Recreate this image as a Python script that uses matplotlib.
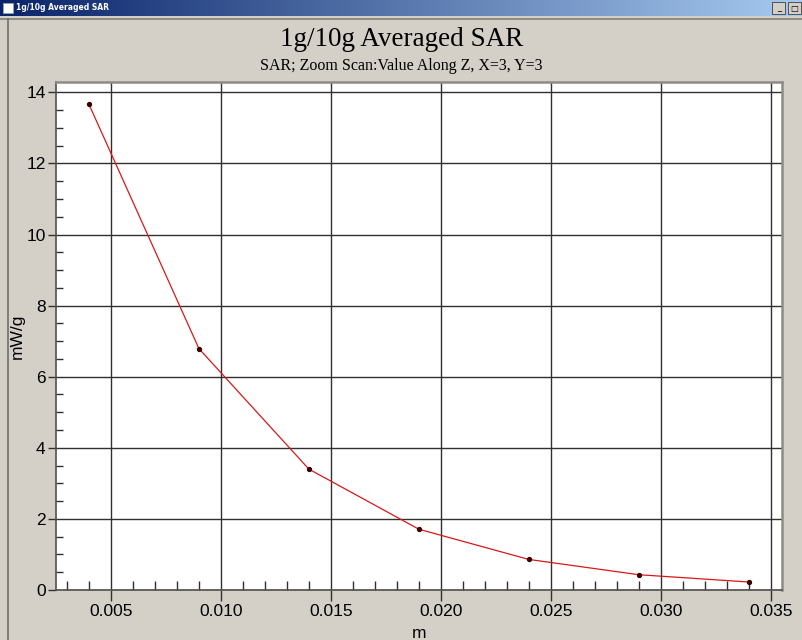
import numpy as np
import matplotlib
matplotlib.use("Agg")
import matplotlib.pyplot as plt
from matplotlib.lines import Line2D
from matplotlib.patches import Rectangle
from matplotlib.ticker import MultipleLocator, FormatStrFormatter

# distance along Z (m) and averaged SAR (mW/g)
z_m = [0.004, 0.009, 0.014, 0.019, 0.024, 0.029, 0.034]
sar_mwg = [13.66, 6.79, 3.40, 1.71, 0.86, 0.43, 0.225]

x_ticks = [0.005, 0.010, 0.015, 0.020, 0.025, 0.030, 0.035]
y_ticks = [0, 2, 4, 6, 8, 10, 12, 14]

window_title = "1g/10g Averaged SAR"
chart_title = "1g/10g Averaged SAR"
chart_subtitle = "SAR; Zoom Scan:Value Along Z, X=3, Y=3"

W, H = 803, 640
bg = "#d4d0c8"

fig = plt.figure(figsize=(W / 100, H / 100), dpi=100, facecolor=bg)


def fx(px):
    return px / W


def fy(py):
    return 1 - py / H


# window title bar
bar_h = 16
bar = fig.add_axes([0, fy(bar_h), 1, bar_h / H])
grad = np.linspace(0, 1, 256).reshape(1, -1)
cmap = matplotlib.colors.LinearSegmentedColormap.from_list("bar", ["#0a246a", "#a6caf0"])
bar.imshow(grad, aspect="auto", cmap=cmap, extent=[0, 1, 0, 1])
bar.set_axis_off()
bar.add_patch(Rectangle((0.004, 0.2), 0.012, 0.6, facecolor="white", edgecolor="#9ab", lw=0.5,
                        transform=bar.transAxes))
bar.text(0.02, 0.5, window_title, color="white", fontsize=5.5, fontweight="bold",
         va="center", ha="left", family="DejaVu Sans", transform=bar.transAxes)
for i, sym in enumerate(["_", "\u25a1"]):
    bx = 0.962 + i * 0.019
    bar.add_patch(Rectangle((bx, 0.12), 0.016, 0.76, facecolor=bg, edgecolor="#404040", lw=0.6,
                            transform=bar.transAxes))
    bar.text(bx + 0.008, 0.5, sym, fontsize=6, ha="center", va="center", color="black",
             transform=bar.transAxes)

# window frame lines
fig.add_artist(Line2D([0, 1], [fy(bar_h + 3), fy(bar_h + 3)], color="#80807a", lw=1.2))
fig.add_artist(Line2D([fx(8), fx(8)], [0, fy(bar_h + 3)], color="#6e6e68", lw=1.2))

# plot area
ax = fig.add_axes([fx(56), fy(590), fx(781.7) - fx(56), (590 - 82) / H])
ax.set_facecolor("white")
ax.plot(z_m, sar_mwg, color="#d81818", lw=0.9, marker="o", markersize=2.8,
        markerfacecolor="#3a0000", markeredgecolor="#3a0000", zorder=3)

ax.set_xlim(0.0025, 0.0355)
ax.set_ylim(0, 14.29)
ax.set_xticks(x_ticks)
ax.set_yticks(y_ticks)
ax.xaxis.set_major_formatter(FormatStrFormatter("%.3f"))
ax.xaxis.set_minor_locator(MultipleLocator(0.001))
ax.yaxis.set_minor_locator(MultipleLocator(0.5))
ax.grid(True, which="major", color="#303030", lw=1.0)

ax.tick_params(axis="x", which="major", direction="out", length=8, width=1, color="#303030",
               pad=2, labelsize=12.5)
ax.tick_params(axis="y", which="major", direction="out", length=6, width=1, color="#303030",
               pad=1.5, labelsize=12.5)
ax.tick_params(axis="x", which="minor", direction="in", length=6.5, width=1, color="#303030")
ax.tick_params(axis="y", which="minor", direction="in", length=5, width=1, color="#303030")

for side in ["left", "bottom"]:
    ax.spines[side].set_color("#505050")
    ax.spines[side].set_linewidth(1.2)
for side in ["top", "right"]:
    ax.spines[side].set_color("#8c8c86")
    ax.spines[side].set_linewidth(1.8)

for lab in ax.get_xticklabels() + ax.get_yticklabels():
    lab.set_family("Liberation Sans")

ax.set_xlabel("m", fontsize=12.5, family="Liberation Sans", labelpad=5)
ax.set_ylabel("mW/g", fontsize=12.5, family="Liberation Sans")
ax.yaxis.set_label_coords(-0.043, 0.5)

fig.text(0.5, fy(40), chart_title, ha="center", va="center", fontsize=19.5,
         family="Liberation Serif")
fig.text(0.5, fy(66), chart_subtitle, ha="center", va="center", fontsize=11.5,
         family="Liberation Serif")

fig.savefig("out.png", dpi=100, facecolor=bg)
